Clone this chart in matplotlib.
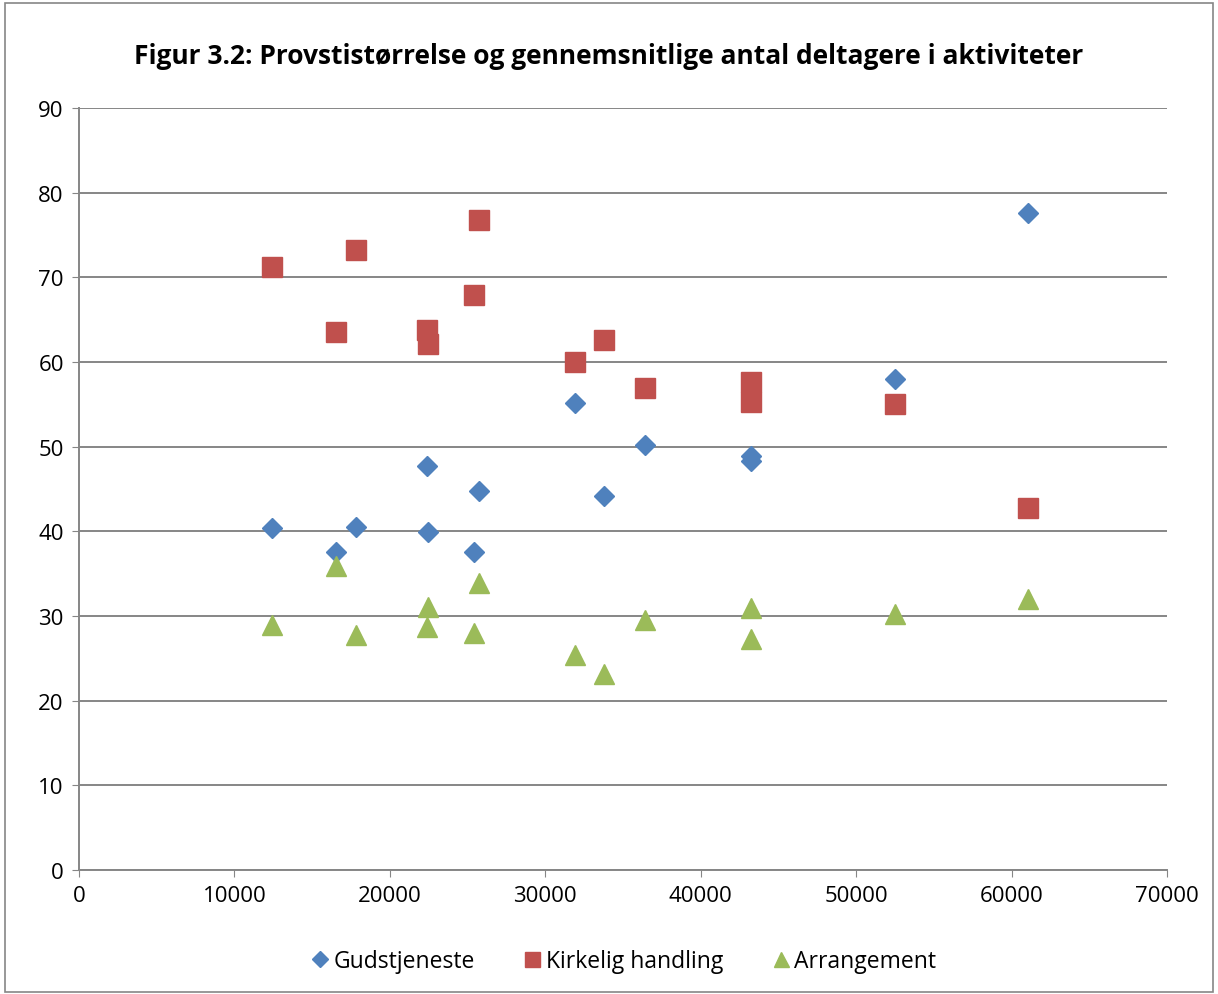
import matplotlib
matplotlib.use("Agg")
import matplotlib.pyplot as plt
from matplotlib.patches import Rectangle

# Provstistørrelse (x) og gennemsnitligt antal deltagere (y)
gud_x = [12400, 16500, 17800, 22400, 22450, 25400, 25700, 31900, 33800, 36400, 43250, 43250, 52500, 61050]
gud_y = [40.4, 37.6, 40.5, 47.7, 39.9, 37.6, 44.8, 55.2, 44.2, 50.2, 48.9, 48.3, 58.0, 77.6]

kirk_x = [12400, 16500, 17800, 22400, 22450, 25400, 25700, 31900, 33800, 36400, 43250, 43250, 52500, 61050]
kirk_y = [71.2, 63.5, 73.2, 63.8, 62.1, 67.9, 76.8, 60.0, 62.6, 56.9, 57.6, 55.3, 55.0, 42.8]

arr_x = [12400, 16500, 17800, 22400, 22450, 25400, 25700, 31900, 33800, 36400, 43250, 43250, 52500, 61050]
arr_y = [28.9, 35.9, 27.8, 28.7, 31.1, 28.0, 33.9, 25.4, 23.1, 29.5, 30.9, 27.3, 30.2, 32.0]

plt.rcParams['font.family'] = ['Open Sans', 'DejaVu Sans']

fig = plt.figure(figsize=(12.18, 9.95), dpi=100)
ax = fig.add_axes([0.0649, 0.1246, 0.8933, 0.7659])

ax.plot(gud_x, gud_y, linestyle='none', marker='D', markersize=10.2,
        color='#4F81BD', label='Gudstjeneste', zorder=3)
ax.plot(kirk_x, kirk_y, linestyle='none', marker='s', markersize=14.4,
        color='#C0504D', label='Kirkelig handling', zorder=3)
ax.plot(arr_x, arr_y, linestyle='none', marker='^', markersize=14.4,
        color='#9BBB59', label='Arrangement', zorder=3)

ax.set_xlim(0, 70000)
ax.set_ylim(0, 90)
ax.set_xticks(range(0, 70001, 10000))
ax.set_yticks(range(0, 91, 10))
ax.tick_params(labelsize=16, length=5, color='#868686', pad=6)
ax.grid(axis='y', color='#868686', linewidth=1.4)
ax.set_axisbelow(True)
for side in ['top', 'right']:
    ax.spines[side].set_visible(False)
for side in ['left', 'bottom']:
    ax.spines[side].set_color('#868686')
    ax.spines[side].set_linewidth(1.4)

fig.text(0.5, 0.943, 'Figur 3.2: Provstistørrelse og gennemsnitlige antal deltagere i aktiviteter',
         ha='center', va='center', fontsize=19, fontweight='bold')

fig.legend(loc='center', bbox_to_anchor=(0.51, 0.033), ncol=3, frameon=False,
           fontsize=16.5, handletextpad=0.0, columnspacing=1.9, markerscale=0.75,
           handlelength=1.2)

fig.patches.append(Rectangle((0.004, 0.002), 0.992, 0.994, transform=fig.transFigure,
                             fill=False, edgecolor='#868686', linewidth=1.2))

fig.savefig('out.png', dpi=100)
